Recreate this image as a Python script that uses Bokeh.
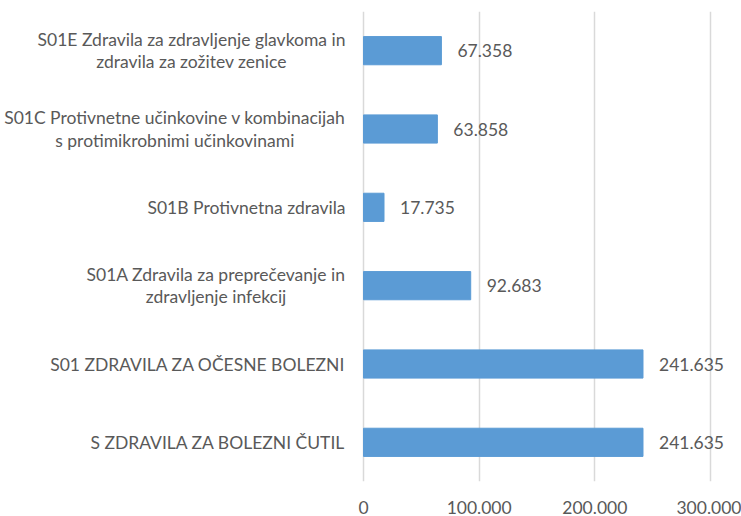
from bokeh.plotting import figure
from bokeh.models import ColumnDataSource, FactorRange, Range1d, FixedTicker
from bokeh.core.properties import value
from bokeh.embed import file_html
from bokeh.resources import INLINE

categories = [
    "S ZDRAVILA ZA BOLEZNI ČUTIL",
    "S01 ZDRAVILA ZA OČESNE BOLEZNI",
    "S01A Zdravila za preprečevanje in\nzdravljenje infekcij",
    "S01B Protivnetna zdravila",
    "S01C Protivnetne učinkovine v kombinacijah\ns protimikrobnimi učinkovinami",
    "S01E Zdravila za zdravljenje glavkoma in\nzdravila za zožitev zenice",
]
values = [241635, 241635, 92683, 17735, 63858, 67358]
tick_values = [0, 100000, 200000, 300000]
tick_labels = ["0", "100.000", "200.000", "300.000"]

FONT = "Lato"
FS = "17.5px"
TEXT_COLOR = "#595959"

def fmt(v):
    return f"{v:,}".replace(",", ".")

src = ColumnDataSource(dict(
    cat=categories,
    val=values,
    lbl=[fmt(v) for v in values],
    zero=[0] * len(values),
))

# frame spans the full width so that the category labels (drawn as text glyphs)
# are not clipped; units per pixel from 300.000 spanning 347 px
upp = 300000 / 347.0
p = figure(
    width=741, height=516,
    y_range=FactorRange(*categories, range_padding=0),
    x_range=Range1d(-363 * upp, (741 - 363) * upp),
    output_backend="svg", toolbar_location=None,
    min_border_left=0, min_border_right=0,
    min_border_top=11, min_border_bottom=32,
)
p.outline_line_color = None
p.background_fill_color = "white"

p.hbar(y="cat", right="val", left=0, height=0.36, source=src,
       fill_color="#5B9BD5", line_color="#5B9BD5")

p.text(x="val", y="cat", text="lbl", source=src, x_offset=16,
       text_align="left", text_baseline="middle",
       text_font=value(FONT), text_font_size=FS, text_color=TEXT_COLOR)

p.text(x="zero", y="cat", text="cat", source=src, x_offset=-18,
       text_align="center", text_baseline="middle", anchor="center_right",
       text_line_height=1.05,
       text_font=value(FONT), text_font_size=FS, text_color=TEXT_COLOR)

p.yaxis.visible = False
p.ygrid.grid_line_color = None
p.xgrid.grid_line_color = "#D9D9D9"
p.xgrid.grid_line_width = 1.5

p.xaxis.ticker = FixedTicker(ticks=tick_values)
p.xaxis.major_label_overrides = dict(zip(tick_values, tick_labels))
p.xaxis.axis_line_color = None
p.xaxis.major_tick_line_color = None
p.xaxis.minor_tick_line_color = None
p.xaxis.major_label_standoff = 13
p.xaxis.major_label_text_font = FONT
p.xaxis.major_label_text_font_size = FS
p.xaxis.major_label_text_color = TEXT_COLOR
p.xgrid.ticker = FixedTicker(ticks=tick_values)

open("out.html", "w").write(file_html(p, INLINE))
